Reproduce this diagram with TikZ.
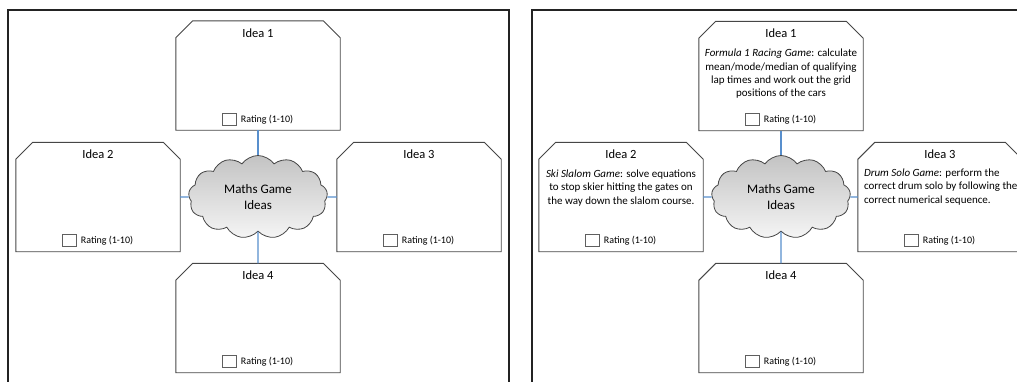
\documentclass[tikz,border=0pt]{standalone}
\usepackage{fontspec}
\setmainfont{Carlito}
\usetikzlibrary{positioning,shapes.symbols}
\definecolor{frameline}{RGB}{35,35,35}
\definecolor{boxline}{RGB}{70,70,70}
\definecolor{tieblue}{RGB}{88,143,205}
\definecolor{cloudtop}{RGB}{195,195,195}
\definecolor{cloudbot}{RGB}{245,245,245}
\definecolor{chkline}{RGB}{95,95,95}
\tikzset{
  idea/.style={rectangle, minimum width=164pt, minimum height=109pt, inner sep=0pt},
  edge/.style={draw=boxline, line width=0.9pt, line join=miter},
  hub/.style={cloud, cloud puffs=13, cloud puff arc=110, aspect=1.7, draw=boxline,
              line width=0.8pt, top color=cloudtop, bottom color=cloudbot, align=center,
              minimum width=139pt, minimum height=83pt, inner sep=0pt,
              font=\fontsize{13}{16}\selectfont},
  title/.style={font=\fontsize{12.5}{15}\selectfont, inner sep=0pt},
  body/.style={font=\fontsize{11}{13.3}\selectfont, inner sep=0pt},
  rate/.style={font=\fontsize{10}{12}\selectfont, inner sep=0pt},
  chk/.style={draw=chkline, line width=0.8pt, minimum width=14pt, minimum height=12pt,
              inner sep=0pt},
  tie/.style={draw=tieblue, line width=1.2pt},
  frame/.style={draw=frameline, line width=1.4pt},
}
% idea box with the two top corners cut off
\newcommand{\ideabox}[2]{%
  \node[idea] (#1) at (#2) {};
  \draw[edge] (#1.south west) -- ([yshift=-17pt]#1.north west)
    -- ([xshift=17pt]#1.north west) -- ([xshift=-17pt]#1.north east)
    -- ([yshift=-17pt]#1.north east) -- (#1.south east) -- cycle;}

\begin{document}
\begin{tikzpicture}[x=1pt, y=-1pt]
  \useasboundingbox (0,0) rectangle (1017,381);
  \clip (0,0) rectangle (1017,381);

  %% left sheet: empty template
  \draw[frame] (8,395) -- (8,10) -- (509,10) -- (509,395);

  \node[hub] (lcloud) at (258,197) {Maths Game\\Ideas};
  \ideabox{lidea1}{258,75.5}
  \ideabox{lidea2}{98,197}
  \ideabox{lidea3}{419,197}
  \ideabox{lidea4}{258,318}

  \node[title] (lt1) at ([yshift=-12pt]lidea1.north) {Idea 1};
  \node[title] (lt2) at ([yshift=-12pt]lidea2.north) {Idea 2};
  \node[title] (lt3) at ([yshift=-12pt]lidea3.north) {Idea 3};
  \node[title] (lt4) at ([yshift=-12pt]lidea4.north) {Idea 4};

  \node[rate] (lr1) at ([xshift=9pt,yshift=11pt]lidea1.south) {Rating (1-10)};
  \node[rate] (lr2) at ([xshift=9pt,yshift=11pt]lidea2.south) {Rating (1-10)};
  \node[rate] (lr3) at ([xshift=9pt,yshift=11pt]lidea3.south) {Rating (1-10)};
  \node[rate] (lr4) at ([xshift=9pt,yshift=11pt]lidea4.south) {Rating (1-10)};
  \node[chk, left=4pt of lr1] (lc1) {};
  \node[chk, left=4pt of lr2] (lc2) {};
  \node[chk, left=4pt of lr3] (lc3) {};
  \node[chk, left=4pt of lr4] (lc4) {};

  \draw[tie] (lcloud) -- (lidea1);
  \draw[tie] (lcloud) -- (lidea2);
  \draw[tie] (lcloud) -- (lidea3);
  \draw[tie] (lcloud) -- (lidea4);

  %% right sheet: filled in
  \draw[frame] (532,395) -- (532,10) -- (1030,10);

  \node[hub] (rcloud) at (781,197) {Maths Game\\Ideas};
  \ideabox{ridea1}{781,76}
  \ideabox{ridea2}{621,197}
  \ideabox{ridea3}{940,197}
  \ideabox{ridea4}{781,318}

  \node[title] (rt1) at ([yshift=-12pt]ridea1.north) {Idea 1};
  \node[title] (rt2) at ([yshift=-12pt]ridea2.north) {Idea 2};
  \node[title] (rt3) at ([yshift=-12pt]ridea3.north) {Idea 3};
  \node[title] (rt4) at ([yshift=-12pt]ridea4.north) {Idea 4};

  \node[body, align=center] (rb1) at ([yshift=2pt]ridea1.center) {%
    \textit{Formula 1 Racing Game}: calculate\\ mean/mode/median of qualifying\\
    lap times and work out the grid\\ positions of the cars};
  \node[body, align=center] (rb2) at ([yshift=9pt]ridea2.center) {%
    \textit{Ski Slalom Game}: solve equations\\ to stop skier hitting the gates on\\
    the way down the slalom course.};
  \node[body, align=left, anchor=west] (rb3) at ([xshift=6pt,yshift=10pt]ridea3.west) {%
    \textit{Drum Solo Game}: perform the\\ correct drum solo by following the\\
    correct numerical sequence.};

  \node[rate] (rr1) at ([xshift=9pt,yshift=11pt]ridea1.south) {Rating (1-10)};
  \node[rate] (rr2) at ([xshift=9pt,yshift=11pt]ridea2.south) {Rating (1-10)};
  \node[rate] (rr3) at ([xshift=9pt,yshift=11pt]ridea3.south) {Rating (1-10)};
  \node[rate] (rr4) at ([xshift=9pt,yshift=11pt]ridea4.south) {Rating (1-10)};
  \node[chk, left=4pt of rr1] (rc1) {};
  \node[chk, left=4pt of rr2] (rc2) {};
  \node[chk, left=4pt of rr3] (rc3) {};
  \node[chk, left=4pt of rr4] (rc4) {};

  \draw[tie] (rcloud) -- (ridea1);
  \draw[tie] (rcloud) -- (ridea2);
  \draw[tie] (rcloud) -- (ridea3);
  \draw[tie] (rcloud) -- (ridea4);
\end{tikzpicture}
\end{document}
